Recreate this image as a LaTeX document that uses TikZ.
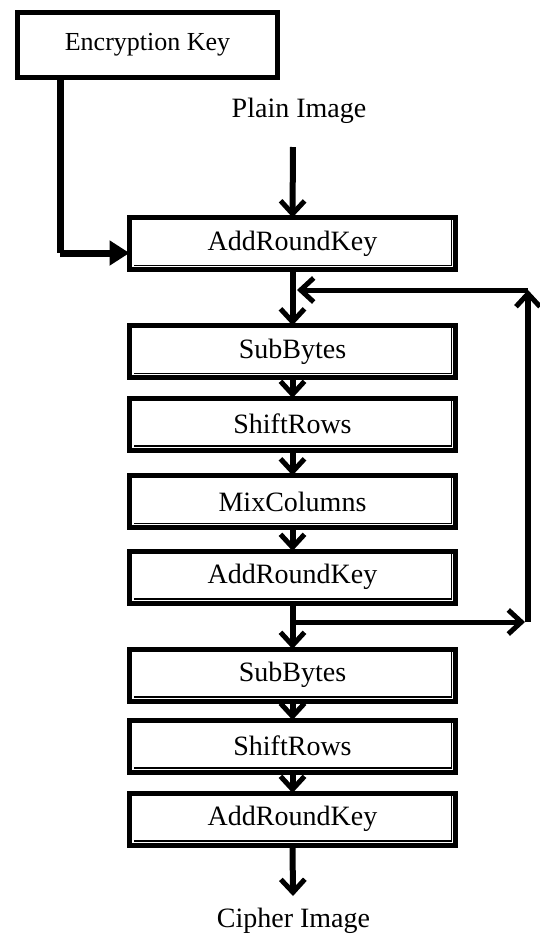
\documentclass[tikz,border=0pt]{standalone}
\usepackage{fontspec}
\setmainfont{Liberation Serif}
\usetikzlibrary{arrows.meta,calc}

\tikzset{
  stage/.style={
    draw, line width=2.5pt, rectangle, inner sep=0pt, outer sep=0pt,
    minimum width=163pt, minimum height=26pt,
    font=\fontsize{14}{16}\selectfont,
    path picture={
      \draw[line width=0.8pt]
        ([xshift=-2.0pt,yshift=2pt]path picture bounding box.north east)
        -- ([xshift=-2.0pt,yshift=2.0pt]path picture bounding box.south east)
        -- ([xshift=2pt,yshift=2.0pt]path picture bounding box.south west);
    }
  },
  keybox/.style={
    draw, line width=2.8pt, rectangle, inner sep=0pt, outer sep=0pt,
    minimum width=130pt, minimum height=32.5pt,
    font=\fontsize{13}{15}\selectfont
  },
  caption/.style={inner sep=0pt, font=\fontsize{14}{16}\selectfont},
  chev/.tip={Straight Barb[length=6.5pt,width=12pt,line width=2.5pt]},
  flow/.style={line width=3pt, -chev},
  thinflow/.style={line width=2.5pt, -chev},
  keyline/.style={line width=3.5pt, -{Triangle[length=10pt,width=12pt]}}
}

\begin{document}
\begin{tikzpicture}[x=0.5pt, y=-0.5pt]
  \useasboundingbox (0,0) rectangle (540,939);

  % key and input / output labels
  \node[keybox] (ek) at (147.5,45) {Encryption Key};
  \node[caption] (pi) at (299,111) {Plain Image};
  \node[caption] (ci) at (293.5,921) {Cipher Image};

  % AES stages
  \node[stage] (ark1) at (292.5,243.5) {AddRoundKey};
  \node[stage] (sb1)  at (292.5,351.5) {SubBytes};
  \node[stage] (sr1)  at (292.5,424)   {ShiftRows};
  \node[stage] (mc)   at (292.5,501.5) {MixColumns};
  \node[stage] (ark2) at (292.5,577)   {AddRoundKey};
  \node[stage] (sb2)  at (292.5,675)   {SubBytes};
  \node[stage] (sr2)  at (292.5,746)   {ShiftRows};
  \node[stage] (ark3) at (292.5,819)   {AddRoundKey};

  % loop junctions and right-hand rail
  \coordinate (jtop) at (293,290);
  \coordinate (rtop) at (528,290);
  \coordinate (jbot) at (293,622);
  \coordinate (rbot) at (528,622);
  \coordinate (kcor) at (60,253);
  \coordinate (pistart) at (293,147);
  \coordinate (ciend) at (293,896);

  % key feed into the first AddRoundKey
  \draw[line width=3.5pt] ($(ek.south west)+(42.5,0)$) -- (kcor);
  \draw[keyline] (kcor) -- (ark1.west |- kcor);

  % main data path
  \draw[flow] (pistart) -- (ark1.north);
  \draw[flow] (ark1.south) -- (sb1.north);
  \draw[flow] (sb1.south) -- (sr1.north);
  \draw[flow] (sr1.south) -- (mc.north);
  \draw[flow] (mc.south) -- (ark2.north);
  \draw[flow] (ark2.south) -- (sb2.north);
  \draw[flow] (sb2.south) -- (sr2.north);
  \draw[flow] (sr2.south) -- (ark3.north);
  \draw[flow] (ark3.south) -- (ciend);

  % round loop back to SubBytes
  \draw[thinflow] (jbot) -- ([xshift=-1.5pt]rbot);
  \draw[flow] (rbot) -- (rtop);
  \draw[thinflow] (rtop) -- ([xshift=2pt]jtop);
\end{tikzpicture}
\end{document}
